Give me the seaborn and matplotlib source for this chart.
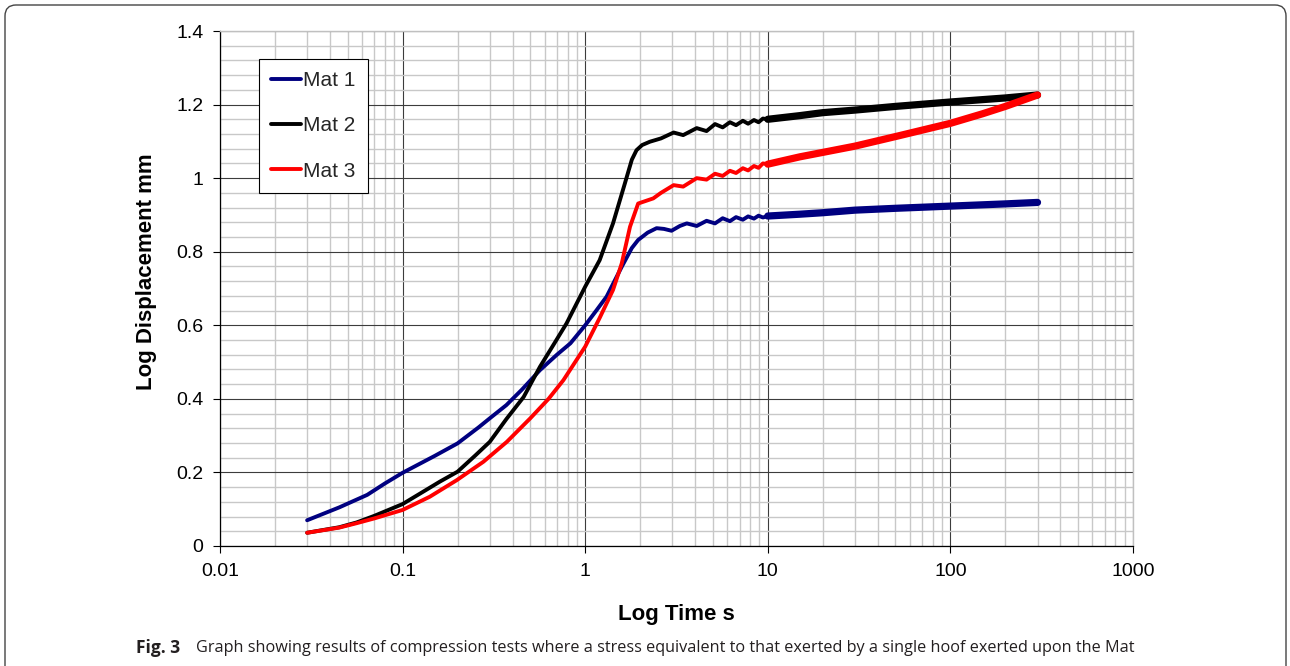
import numpy as np
import pandas as pd
import seaborn as sns
import matplotlib.pyplot as plt
from matplotlib.ticker import LogLocator, MultipleLocator, NullFormatter
from matplotlib.patches import FancyBboxPatch
from matplotlib.transforms import IdentityTransform

# values (time in s, log displacement in mm)
mat1_t = [0.03, 0.045, 0.064, 0.08, 0.1, 0.15, 0.2, 0.26, 0.3, 0.37, 0.45, 0.565, 0.7, 0.83,
          1.0, 1.15, 1.31, 1.585, 1.8, 1.95, 2.2, 2.46, 2.7, 2.97, 3.3, 3.6, 4.08, 4.62, 5.14,
          5.66, 6.2, 6.7, 7.3, 7.8, 8.4, 8.9, 9.4, 10, 15, 20, 30, 50, 100, 200, 300]
mat1_d = [0.07, 0.105, 0.139, 0.17, 0.199, 0.245, 0.279, 0.322, 0.347, 0.383, 0.425, 0.478, 0.52, 0.551,
          0.60, 0.64, 0.678, 0.759, 0.81, 0.832, 0.852, 0.864, 0.862, 0.857, 0.87, 0.877, 0.87, 0.884, 0.877,
          0.891, 0.883, 0.894, 0.887, 0.896, 0.89, 0.898, 0.893, 0.897, 0.902, 0.906, 0.913, 0.918, 0.924, 0.93, 0.934]

mat2_t = [0.03, 0.045, 0.056, 0.07, 0.1, 0.13, 0.16, 0.2, 0.25, 0.3, 0.37, 0.46, 0.565, 0.68, 0.79,
          1.0, 1.2, 1.42, 1.65, 1.8, 1.91, 2.05, 2.26, 2.6, 3.05, 3.44, 4.08, 4.62, 5.14, 5.66,
          6.2, 6.7, 7.3, 7.8, 8.4, 8.9, 9.4, 10, 15, 20, 30, 50, 100, 200, 300]
mat2_d = [0.036, 0.051, 0.064, 0.082, 0.114, 0.148, 0.175, 0.202, 0.246, 0.283, 0.345, 0.405, 0.487, 0.552, 0.605,
          0.705, 0.777, 0.877, 0.986, 1.05, 1.076, 1.09, 1.099, 1.108, 1.124, 1.117, 1.136, 1.128, 1.147, 1.138,
          1.152, 1.144, 1.156, 1.148, 1.158, 1.152, 1.162, 1.16, 1.17, 1.178, 1.185, 1.195, 1.207, 1.218, 1.226]

mat3_t = [0.03, 0.045, 0.056, 0.07, 0.1, 0.141, 0.198, 0.277, 0.372, 0.5, 0.63, 0.76, 1.0, 1.2,
          1.42, 1.585, 1.76, 1.95, 2.36, 2.6, 3.05, 3.44, 4.08, 4.62, 5.14, 5.66, 6.2, 6.7, 7.3,
          7.8, 8.4, 8.9, 9.4, 10, 15, 20, 30, 50, 100, 150, 200, 300]
mat3_d = [0.036, 0.05, 0.062, 0.075, 0.098, 0.134, 0.179, 0.229, 0.283, 0.347, 0.40, 0.451, 0.542, 0.62,
          0.696, 0.768, 0.868, 0.931, 0.945, 0.96, 0.981, 0.977, 1.0, 0.996, 1.012, 1.006, 1.02, 1.014, 1.027,
          1.021, 1.033, 1.028, 1.04, 1.038, 1.058, 1.07, 1.087, 1.113, 1.149, 1.175, 1.195, 1.226]

series_names = ["Mat 1", "Mat 2", "Mat 3"]
series_colors = ["#000080", "#000000", "#ff0000"]

x_ticks = [0.01, 0.1, 1, 10, 100, 1000]
x_tick_labels = ["0.01", "0.1", "1", "10", "100", "1000"]
y_ticks = [0, 0.2, 0.4, 0.6, 0.8, 1.0, 1.2, 1.4]
y_tick_labels = ["0", "0.2", "0.4", "0.6", "0.8", "1", "1.2", "1.4"]

caption_bold = "Fig. 3"
caption_text = ("Graph showing results of compression tests where a stress equivalent to "
                "that exerted by a single hoof exerted upon the Mat")

df = pd.concat([
    pd.DataFrame({"time": t, "disp": d, "mat": name})
    for t, d, name in zip([mat1_t, mat2_t, mat3_t], [mat1_d, mat2_d, mat3_d], series_names)
], ignore_index=True)

sns.set_theme(style="white")
plt.rcParams['font.family'] = ['Liberation Sans', 'DejaVu Sans']

fig = plt.figure(figsize=(12.9, 6.66), dpi=100)
ax = fig.add_axes([220 / 1290, 1 - 546 / 666, 913 / 1290, 515 / 666])

palette = dict(zip(series_names, series_colors))
sns.lineplot(data=df, x="time", y="disp", hue="mat", palette=palette, estimator=None,
             sort=False, lw=2.8, solid_capstyle="round", ax=ax)

# the dense oscillations after ~10 s read as a thicker band
tail = df[df["time"] >= 10]
sns.lineplot(data=tail, x="time", y="disp", hue="mat", palette=palette, estimator=None,
             sort=False, lw=5.2, solid_capstyle="round", legend=False, ax=ax)

ax.set_xscale("log")
ax.set_xlim(0.01, 1000)
ax.set_ylim(0, 1.4)
ax.set_xticks(x_ticks)
ax.set_xticklabels(x_tick_labels)
ax.set_yticks(y_ticks)
ax.set_yticklabels(y_tick_labels)
ax.xaxis.set_minor_locator(LogLocator(base=10, subs=np.arange(2, 10)))
ax.xaxis.set_minor_formatter(NullFormatter())
ax.yaxis.set_minor_locator(MultipleLocator(0.04))

ax.set_axisbelow(True)
ax.grid(which="minor", color="#c8c8c8", lw=1.0)
ax.grid(which="major", color="#3c3c3c", lw=0.8)

ax.tick_params(which="major", direction="out", length=5, width=0.8, color="black",
               pad=7, labelsize=14, labelcolor="black", left=True, bottom=True)
ax.tick_params(which="minor", length=0)

for side in ["left", "bottom"]:
    ax.spines[side].set_color("black")
    ax.spines[side].set_linewidth(0.9)
for side in ["top", "right"]:
    ax.spines[side].set_color("#c0c0c0")
    ax.spines[side].set_linewidth(1.0)

ax.set_xlabel("Log Time s", fontsize=16, fontweight="bold", color="black")
ax.set_ylabel("Log Displacement mm", fontsize=16, fontweight="bold", color="black")
ax.xaxis.set_label_coords(0.5, -0.112)
ax.yaxis.set_label_coords(-0.069, 0.532)

handles, labels = ax.get_legend_handles_labels()
leg = ax.legend(handles[:3], labels[:3], loc="upper left", bbox_to_anchor=(0.0427, 0.9456),
                borderaxespad=0, frameon=True, fancybox=False, edgecolor="black",
                framealpha=1, fontsize=15, handlelength=1.45, handletextpad=0.1,
                labelspacing=1.26, borderpad=0.58)
leg.get_frame().set_linewidth(0.8)
for line in leg.get_lines():
    line.set_linewidth(2.8)

# caption below the chart
fig.text(136 / 1290, 1 - 648 / 666, caption_bold, family=["Open Sans", "DejaVu Sans"],
         fontweight="bold", fontsize=12.5, color="#231f20", va="center", ha="left")
fig.text(196 / 1290, 1 - 648 / 666, caption_text, family=["Open Sans", "DejaVu Sans"],
         fontsize=11.7, color="#231f20", va="center", ha="left")

# rounded outer frame
frame = FancyBboxPatch((5, -12), 1281, 673, boxstyle="round,pad=0,rounding_size=11",
                       transform=IdentityTransform(), fill=False, edgecolor="#444444", lw=1.0)
fig.patches.append(frame)

fig.savefig("out.png", dpi=100)
